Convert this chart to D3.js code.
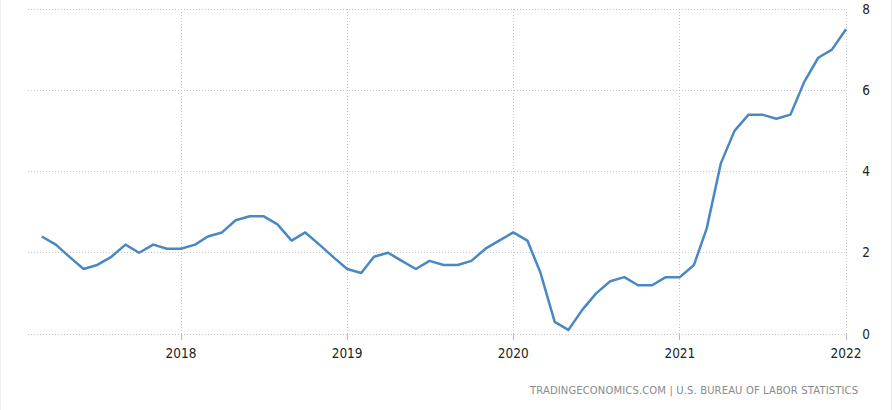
<!DOCTYPE html>
<html><head><meta charset="utf-8">
<script src="https://cdn.jsdelivr.net/npm/d3@7"></script>
<style>body{margin:0;background:#fff}svg{display:block}</style>
</head><body><svg id="c" width="893" height="410"></svg>
<script>
const startMonth = "2017-03";
const values = [2.4,2.2,1.9,1.6,1.7,1.9,2.2,2.0,2.2,2.1,
  2.1,2.2,2.4,2.5,2.8,2.9,2.9,2.7,2.3,2.5,2.2,1.9,
  1.6,1.5,1.9,2.0,1.8,1.6,1.8,1.7,1.7,1.8,2.1,2.3,
  2.5,2.3,1.5,0.3,0.1,0.6,1.0,1.3,1.4,1.2,1.2,1.4,
  1.4,1.7,2.6,4.2,5.0,5.4,5.4,5.3,5.4,6.2,6.8,7.0,
  7.5];
const yTicks = [0,2,4,6,8];
const xTickYears = [2018,2019,2020,2021,2022];
const source = "TRADINGECONOMICS.COM  |  U.S. BUREAU OF LABOR STATISTICS";

const parse = d3.timeParse("%Y-%m");
const d0 = parse(startMonth);
const data = values.map((v,i)=>({date:d3.timeMonth.offset(d0,i), v}));

const svg = d3.select("#c");
svg.append("rect").attr("x",0.5).attr("y",-1).attr("width",891).attr("height",412)
  .attr("fill","none").attr("stroke","#eee");

const x = d3.scaleTime().domain([new Date(2018,0,1), new Date(2022,0,1)]).range([181,846]);
const y = d3.scaleLinear().domain([0,8]).range([334,9]);

const g = svg.append("g");
g.selectAll(".hg").data(yTicks).join("line")
  .attr("x1",28).attr("x2",846).attr("y1",d=>y(d)).attr("y2",d=>y(d))
  .attr("stroke","#c8c8c8").attr("stroke-dasharray","1,2").attr("shape-rendering","crispEdges");
const xt = xTickYears.map(yr=>new Date(yr,0,1));
g.selectAll(".vg").data(xt).join("line")
  .attr("x1",d=>x(d)).attr("x2",d=>x(d)).attr("y1",9).attr("y2",334)
  .attr("stroke","#c8c8c8").attr("stroke-dasharray","1,2").attr("shape-rendering","crispEdges");
g.selectAll(".vt").data(xt).join("line")
  .attr("x1",d=>x(d)).attr("x2",d=>x(d)).attr("y1",334).attr("y2",340)
  .attr("stroke","#bbb").attr("shape-rendering","crispEdges");

g.selectAll(".yl").data(yTicks).join("text")
  .attr("x",866).attr("y",d=>y(d)).attr("dy","0.35em").attr("text-anchor","middle")
  .attr("font-family","DejaVu Sans Condensed, DejaVu Sans").attr("font-size",13.5).attr("fill","#222")
  .text(d=>d);
g.selectAll(".xl").data(xt).join("text")
  .attr("x",d=>x(d)).attr("y",358).attr("text-anchor","middle")
  .attr("font-family","DejaVu Sans Condensed, DejaVu Sans").attr("font-size",13.5).attr("fill","#222")
  .text(d=>d3.timeFormat("%Y")(d));

const line = d3.line().x(d=>x(d.date)).y(d=>y(d.v));
g.append("path").datum(data).attr("d",line).attr("fill","none")
  .attr("stroke","#4a88c2").attr("stroke-width",2.5).attr("stroke-linejoin","round");

svg.append("text").attr("x",858).attr("y",394).attr("text-anchor","end")
  .attr("font-family","DejaVu Sans").attr("font-size",10).attr("fill","#8a8a8a")
  .attr("textLength",328).attr("lengthAdjust","spacing")
  .text(source);
</script></body></html>
